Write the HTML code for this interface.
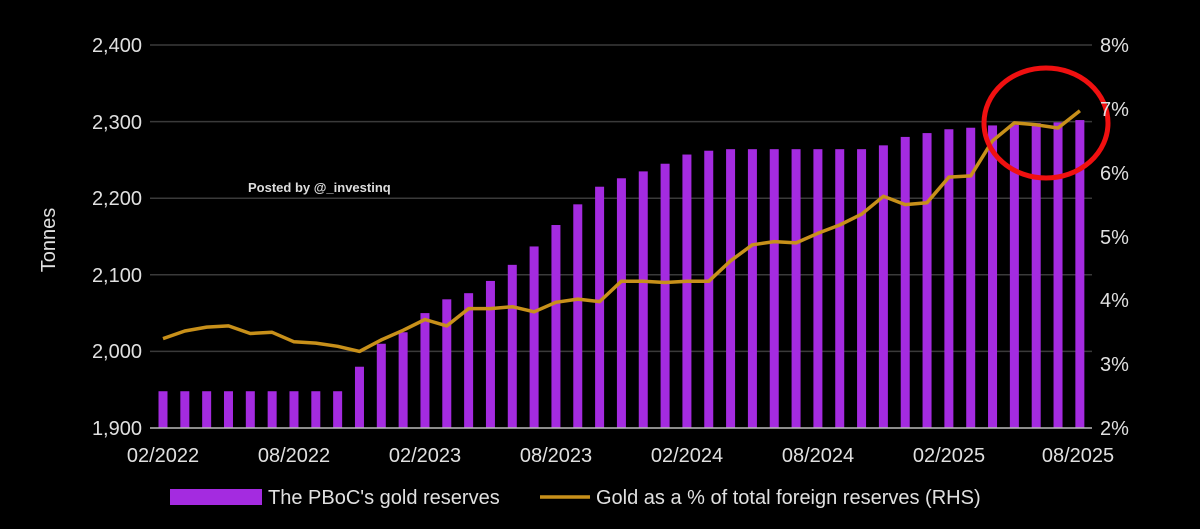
<!DOCTYPE html>
<html><head><meta charset="utf-8"><style>
html,body{margin:0;padding:0;background:#000;}
svg{display:block;font-family:"Liberation Sans",sans-serif;}
</style></head><body>
<svg id="s" width="1200" height="529" viewBox="0 0 1200 529">
<rect width="1200" height="529" fill="#000"/>
<g stroke="#3a3a3a" stroke-width="1.5">
<line x1="150" x2="1092" y1="45" y2="45"/>
<line x1="150" x2="1092" y1="121.6" y2="121.6"/>
<line x1="150" x2="1092" y1="198.2" y2="198.2"/>
<line x1="150" x2="1092" y1="274.8" y2="274.8"/>
<line x1="150" x2="1092" y1="351.4" y2="351.4"/>
</g>
<g id="bars" fill="#a42be0"></g>
<line x1="150" x2="1092" y1="428" y2="428" stroke="#bbb" stroke-width="1.5"/>
<polyline id="ln" fill="none" stroke="#c8901a" stroke-width="3.5" stroke-linejoin="round"/>
<ellipse cx="1046" cy="123" rx="62" ry="55" fill="none" stroke="#f01010" stroke-width="5"/>
<g fill="#e0e0e0" font-size="20" text-anchor="end">
<text x="142" y="52">2,400</text>
<text x="142" y="129">2,300</text>
<text x="142" y="205">2,200</text>
<text x="142" y="282">2,100</text>
<text x="142" y="358">2,000</text>
<text x="142" y="435">1,900</text>
</g>
<g fill="#e0e0e0" font-size="20" text-anchor="start">
<text x="1100" y="52">8%</text>
<text x="1100" y="116">7%</text>
<text x="1100" y="180">6%</text>
<text x="1100" y="244">5%</text>
<text x="1100" y="307">4%</text>
<text x="1100" y="371">3%</text>
<text x="1100" y="435">2%</text>
</g>
<g fill="#e0e0e0" font-size="20" text-anchor="middle">
<text x="163" y="462">02/2022</text>
<text x="294" y="462">08/2022</text>
<text x="425" y="462">02/2023</text>
<text x="556" y="462">08/2023</text>
<text x="687" y="462">02/2024</text>
<text x="818" y="462">08/2024</text>
<text x="949" y="462">02/2025</text>
<text x="1078" y="462">08/2025</text>
</g>
<text x="0" y="0" transform="translate(55,240) rotate(-90)" fill="#e0e0e0" font-size="20" text-anchor="middle">Tonnes</text>
<text x="248" y="192" fill="#ddd" font-size="13" font-weight="bold">Posted by @_investinq</text>
<rect x="170" y="489" width="92" height="16" fill="#a42be0"/>
<text x="268" y="504" fill="#e0e0e0" font-size="20">The PBoC's gold reserves</text>
<line x1="540" x2="590" y1="497" y2="497" stroke="#c8901a" stroke-width="3.5"/>
<text x="596" y="504" fill="#e0e0e0" font-size="20">Gold as a % of total foreign reserves (RHS)</text>
</svg>
<script>
var b=[1948,1948,1948,1948,1948,1948,1948,1948,1948,1980,2010,2025,2050,2068,2076,2092,2113,2137,2165,2192,2215,2226,2235,2245,2257,2262,2264,2264,2264,2264,2264,2264,2264,2269,2280,2285,2290,2292,2295,2296,2298,2299,2302];
var l=[3.4,3.52,3.58,3.6,3.48,3.5,3.35,3.33,3.28,3.2,3.38,3.53,3.7,3.6,3.87,3.87,3.9,3.82,3.97,4.02,3.98,4.3,4.3,4.28,4.3,4.3,4.62,4.87,4.92,4.9,5.05,5.18,5.35,5.63,5.5,5.53,5.93,5.95,6.5,6.78,6.75,6.7,6.78,6.97];
l=l.slice(0,43);l[42]=6.97;
var g=document.getElementById('bars'),pts=[];
for(var i=0;i<43;i++){var x=163+i*21.83;var y=428-(b[i]-1900)*0.766;
var r=document.createElementNS('http://www.w3.org/2000/svg','rect');
r.setAttribute('x',x-4.5);r.setAttribute('y',y);r.setAttribute('width',9);r.setAttribute('height',428-y);g.appendChild(r);
pts.push(x.toFixed(1)+','+(428-(l[i]-2)*63.83).toFixed(1));}
document.getElementById('ln').setAttribute('points',pts.join(' '));
</script>
</body></html>
